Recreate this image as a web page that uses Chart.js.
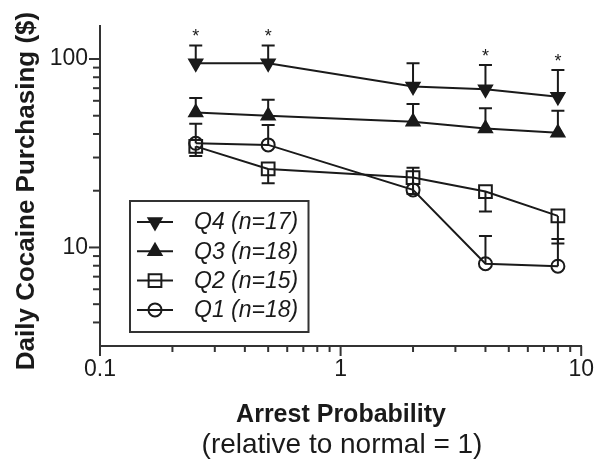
<!DOCTYPE html>
<html>
<head>
<meta charset="utf-8">
<script src="https://cdn.jsdelivr.net/npm/chart.js@4.4.1/dist/chart.umd.min.js"></script>
<style>
  html, body { margin: 0; padding: 0; background: #fff; }
  #wrap { width: 604px; height: 469px; }
</style>
</head>
<body>
<div id="wrap"><canvas id="myChart" width="604" height="469"></canvas></div>
<script>
// Arrest probability levels (relative to normal = 1)
const arrestProb = [0.25, 0.5, 2, 4, 8];

// Mean daily cocaine purchasing ($) per quartile, plus where each error bar ends
const q4Mean = [95, 95, 71.5, 69, 63];
const q4Upper = [118, 118, 95, 93, 87.5];
const q3Mean = [52, 50, 46.4, 42.8, 40.6];
const q3Upper = [62, 60.7, 57.7, 54.7, 53.2];
const q2Mean = [34.4, 26.1, 23.5, 19.8, 14.7];
const q2Lower = [30.6, 21.9, 19.2, 15.5, 10.5];
const q1Mean = [35.7, 35, 20.2, 8.2, 7.95];
const q1Upper = [45.3, 44.7, 26.5, 11.5, 11.1];

// Q4 points marked with a star
const q4Starred = [0.25, 0.5, 4, 8];

const seriesLabels = ['Q4 (n=17)', 'Q3 (n=18)', 'Q2 (n=15)', 'Q1 (n=18)'];

// Axis ticks
const xMajorTicks = [0.1, 1, 10];
const xMinorTicks = [0.2, 0.3, 0.4, 0.5, 0.6, 0.7, 0.8, 0.9, 2, 3, 4, 5, 6, 7, 8, 9];
const yMajorTicks = [10, 100];
const yMinorTicks = [4, 5, 6, 7, 8, 9, 20, 30, 40, 50, 60, 70, 80, 90];

const ink = '#1a1a1a';
const axisInk = '#333333';
const fontFamily = '"Liberation Sans", Arial, Helvetica, sans-serif';

const toPoints = (ys) => arrestProb.map((x, i) => ({ x: x, y: ys[i] }));

function makeSeries(label, means, errEnd, style, rotation, radius, filled) {
    return {
        label: label,
        data: toPoints(means),
        errEnd: errEnd,
        borderColor: ink,
        borderWidth: 2,
        tension: 0,
        pointStyle: style,
        rotation: rotation,
        pointRadius: radius,
        pointHoverRadius: radius,
        pointBorderWidth: 2,
        pointBorderColor: ink,
        pointBackgroundColor: filled ? ink : 'rgba(0,0,0,0)',
        fill: false
    };
}

// Error bars with a cap at the far end
const errorBars = {
    id: 'errorBars',
    beforeDatasetsDraw(chart) {
        const ctx = chart.ctx;
        const xs = chart.scales.x, ys = chart.scales.y;
        ctx.save();
        ctx.strokeStyle = ink;
        ctx.lineWidth = 2;
        chart.data.datasets.forEach((ds) => {
            ds.data.forEach((p, j) => {
                const x = xs.getPixelForValue(p.x);
                const y0 = ys.getPixelForValue(p.y);
                const y1 = ys.getPixelForValue(ds.errEnd[j]);
                ctx.beginPath();
                ctx.moveTo(x, y0);
                ctx.lineTo(x, y1);
                ctx.moveTo(x - 6.5, y1);
                ctx.lineTo(x + 6.5, y1);
                ctx.stroke();
            });
        });
        ctx.restore();
    }
};

// Log ticks (major and minor), stars, legend box and axis titles
const decorations = {
    id: 'decorations',
    afterDraw(chart) {
        const ctx = chart.ctx;
        const xs = chart.scales.x, ys = chart.scales.y;
        const area = chart.chartArea;
        ctx.save();
        ctx.strokeStyle = axisInk;

        const tick = (x1, y1, x2, y2, w) => {
            ctx.lineWidth = w;
            ctx.beginPath();
            ctx.moveTo(x1, y1);
            ctx.lineTo(x2, y2);
            ctx.stroke();
        };
        xMajorTicks.forEach(v => { const x = xs.getPixelForValue(v); tick(x, area.bottom, x, area.bottom + 10, 2); });
        xMinorTicks.forEach(v => { const x = xs.getPixelForValue(v); tick(x, area.bottom, x, area.bottom + 6, 2); });
        yMajorTicks.forEach(v => { const y = ys.getPixelForValue(v); tick(area.left, y, area.left - 11, y, 2); });
        yMinorTicks.forEach(v => { const y = ys.getPixelForValue(v); tick(area.left, y, area.left - 7, y, 2); });

        // stars above Q4 error bars
        ctx.fillStyle = ink;
        ctx.font = '18px ' + fontFamily;
        ctx.textAlign = 'center';
        ctx.textBaseline = 'alphabetic';
        q4Starred.forEach(v => {
            const i = arrestProb.indexOf(v);
            const x = xs.getPixelForValue(v);
            const y = ys.getPixelForValue(q4Upper[i]);
            ctx.fillText('*', x, y - 13 + 10);
        });

        // legend
        const box = { left: 130, top: 201, right: 308.5, bottom: 332 };
        ctx.fillStyle = '#fff';
        ctx.fillRect(box.left, box.top, box.right - box.left, box.bottom - box.top);
        ctx.strokeStyle = axisInk;
        ctx.lineWidth = 2;
        ctx.strokeRect(box.left, box.top, box.right - box.left, box.bottom - box.top);
        chart.data.datasets.forEach((ds, i) => {
            const y = 222 + i * 29.3;
            ctx.strokeStyle = ink;
            ctx.lineWidth = 2;
            ctx.beginPath();
            ctx.moveTo(137, y);
            ctx.lineTo(173, y);
            ctx.stroke();
            ctx.fillStyle = ds.pointBackgroundColor;
            Chart.helpers.drawPoint(ctx, {
                pointStyle: ds.pointStyle,
                radius: ds.pointRadius,
                rotation: ds.rotation,
                borderWidth: 2
            }, 155, y);
            ctx.fillStyle = ink;
            ctx.font = 'italic 23px ' + fontFamily;
            ctx.textAlign = 'left';
            ctx.textBaseline = 'middle';
            ctx.fillText(ds.label, 194, y + 1);
        });

        // axis titles
        ctx.fillStyle = ink;
        ctx.textAlign = 'center';
        ctx.textBaseline = 'alphabetic';
        ctx.font = 'bold 25px ' + fontFamily;
        ctx.fillText('Arrest Probability', 341, 422);
        ctx.font = '28px ' + fontFamily;
        ctx.fillText('(relative to normal = 1)', 342, 453);

        ctx.translate(33.5, 191);
        ctx.rotate(-Math.PI / 2);
        ctx.font = 'bold 26px ' + fontFamily;
        ctx.fillText('Daily Cocaine Purchasing ($)', 0, 0);
        ctx.restore();
    }
};

const ctx = document.getElementById('myChart').getContext('2d');
const myChart = new Chart(ctx, {
    type: 'line',
    data: {
        datasets: [
            makeSeries(seriesLabels[0], q4Mean, q4Upper, 'triangle', 180, 7.5, true),
            makeSeries(seriesLabels[1], q3Mean, q3Upper, 'triangle', 0, 7.5, true),
            makeSeries(seriesLabels[2], q2Mean, q2Lower, 'rect', 0, 9, false),
            makeSeries(seriesLabels[3], q1Mean, q1Upper, 'circle', 0, 6.5, false)
        ]
    },
    options: {
        responsive: false,
        animation: false,
        layout: { padding: { left: 0, top: 24, right: 21.5, bottom: 0 } },
        plugins: {
            legend: { display: false },
            tooltip: { enabled: false }
        },
        scales: {
            x: {
                type: 'logarithmic',
                min: 0.1,
                max: 10,
                afterBuildTicks: (scale) => { scale.ticks = xMajorTicks.map(v => ({ value: v })); },
                afterFit: (scale) => { scale.height = 123; },
                grid: { display: false, drawTicks: false },
                border: { display: true, color: axisInk, width: 2 },
                ticks: {
                    padding: 10,
                    color: ink,
                    font: { family: fontFamily, size: 23 },
                    callback: (v) => String(v)
                }
            },
            y: {
                type: 'logarithmic',
                min: 3,
                max: 150,
                afterBuildTicks: (scale) => { scale.ticks = yMajorTicks.map(v => ({ value: v })); },
                afterFit: (scale) => { scale.width = 100; },
                grid: { display: false, drawTicks: false },
                border: { display: true, color: axisInk, width: 2 },
                ticks: {
                    padding: 12,
                    color: ink,
                    font: { family: fontFamily, size: 23 },
                    callback: (v) => String(v)
                }
            }
        }
    },
    plugins: [errorBars, decorations]
});
</script>
</body>
</html>
